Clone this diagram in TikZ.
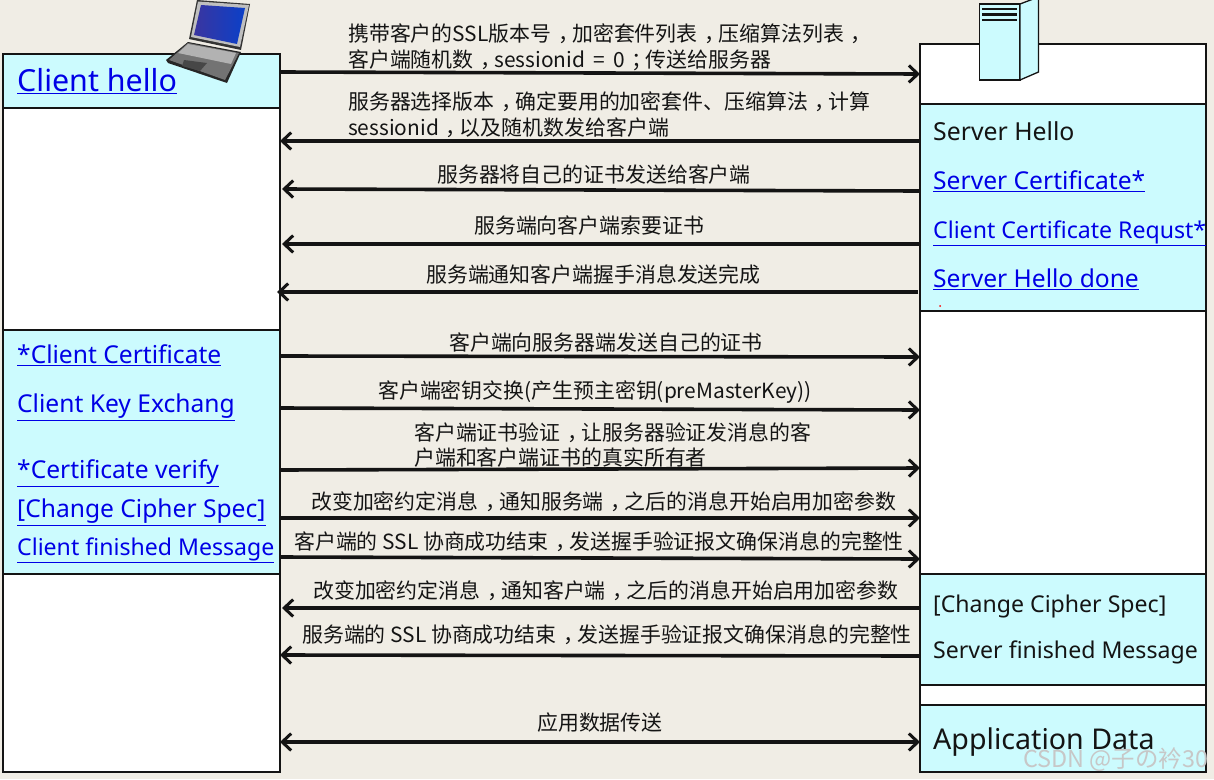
\documentclass[tikz,border=0pt]{standalone}
\usepackage{fontspec}
\setmainfont{Noto Sans}
\newfontfamily\cjk{Noto Sans CJK SC}
\newcommand\cmm{\kern.33em，\kern-.33em}
\newcommand\smc{\kern.33em；\kern-.33em}
\definecolor{bgc}{HTML}{F0EDE5}
\definecolor{cyanf}{HTML}{CCFBFE}
\definecolor{linkc}{HTML}{0000E6}
\definecolor{ink}{HTML}{141414}
\definecolor{scrl}{HTML}{3A35A0}
\definecolor{scrr}{HTML}{0B40C8}
\tikzset{
 x=1pt,y=-1pt,
 whitebox/.style={draw=ink,line width=1.4pt,fill=white},
 cyanbox/.style={draw=ink,line width=1.4pt,fill=cyanf},
 msg/.style={line width=3.6pt,draw=ink,-{Straight Barb[length=9pt,width=17pt,line width=3pt]}},
 msgback/.style={line width=3.6pt,draw=ink,{Straight Barb[length=9pt,width=17pt,line width=3pt]}-{Straight Barb[length=9pt,width=17pt,line width=3pt]}},
 note/.style={inner sep=0pt,anchor=mid west,yshift=-5pt,text=ink,font=\cjk\fontsize{20.9}{24}\selectfont},
 linktext/.style={inner sep=0pt,anchor=mid west,yshift=-6pt,text=linkc,font=\fontsize{24.6}{28}\selectfont},
 narrowlink/.style={linktext,font=\fontsize{23.1}{28}\selectfont},
 plaintext/.style={inner sep=0pt,anchor=mid west,yshift=-6pt,text=ink,font=\fontsize{23.1}{28}\selectfont},
}
\usetikzlibrary{arrows.meta}
\begin{document}
\begin{tikzpicture}
\useasboundingbox (0,0) rectangle (1214,779);
\fill[bgc] (0,0) rectangle (1214,779);
% left column
\draw[whitebox] (3,108) rectangle (280,330);
\draw[whitebox] (3,574) rectangle (280,772);
\draw[cyanbox] (3,54) rectangle (280,108);
\draw[cyanbox] (3,330) rectangle (280,574);
% right column
\draw[whitebox] (920,44) rectangle (1206,104);
\draw[whitebox] (920,311) rectangle (1206,574);
\draw[whitebox] (920,685) rectangle (1206,705);
\draw[cyanbox] (920,104) rectangle (1206,311);
\draw[cyanbox] (920,574) rectangle (1206,685);
\draw[cyanbox] (920,705) rectangle (1206,772);
% laptop
\fill[black!80] (197,0) -- (250,4) -- (241,50) -- (189,39) -- cycle;
\fill[black!25] (198,1.5) -- (249,5) -- (240,47) -- (191,37) -- cycle;
\shade[left color=scrl,right color=scrr] (201,5) -- (245,8) -- (237,44) -- (194,35) -- cycle;
\fill[black!85] (188,42) -- (241,52) -- (227,83) -- (168,63) -- (166,60) -- cycle;
\fill[black!55] (188,43) -- (239,53) -- (225,80) -- (169,60) -- cycle;
\fill[black!30] (188,44) -- (236,53) -- (231,64) -- (178,53) -- cycle;
\fill[black!72] (184,60) -- (207,63) -- (200,71) -- (182,66) -- cycle;
% server
\draw[fill=cyanf,draw=ink,line width=1.3pt] (979.5,4) rectangle (1020,80);
\draw[fill=cyanf,draw=ink,line width=1.3pt] (1020,4) -- (1038.5,-3) -- (1038.5,72) -- (1020,80) -- cycle;
\fill[ink] (982,7.5) rectangle (1017,10);
\fill[ink] (982,13) rectangle (1017,15.5);
\fill[ink] (982,18.5) rectangle (1017,21);
% end points
\coordinate (a1l) at (280,72); \coordinate (a1r) at (920,74);
\coordinate (a2l) at (280,141); \coordinate (a2r) at (920,141);
\coordinate (a3l) at (282,189); \coordinate (a3r) at (920,191);
\coordinate (a4l) at (282,244); \coordinate (a4r) at (920,244);
\coordinate (a5l) at (277,292); \coordinate (a5r) at (918,292);
\coordinate (a6l) at (280,356); \coordinate (a6r) at (920,357);
\coordinate (a7l) at (280,408); \coordinate (a7r) at (920,410);
\coordinate (a8l) at (280,470); \coordinate (a8r) at (920,468);
\coordinate (a9l) at (280,518); \coordinate (a9r) at (920,518);
\coordinate (a10l) at (280,557); \coordinate (a10r) at (920,559);
\coordinate (a11l) at (282,608); \coordinate (a11r) at (920,608);
\coordinate (a12l) at (280,655); \coordinate (a12r) at (920,656);
\coordinate (a13l) at (280,742); \coordinate (a13r) at (920,742);
\draw[msg] (a1l) -- (a1r);
\draw[msg] (a2r) -- (a2l);
\draw[msg] (a3r) -- (a3l);
\draw[msg] (a4r) -- (a4l);
\draw[msg] (a5r) -- (a5l);
\draw[msg] (a6l) -- (a6r);
\draw[msg] (a7l) -- (a7r);
\draw[msg] (a8l) -- (a8r);
\draw[msg] (a9l) -- (a9r);
\draw[msg] (a10l) -- (a10r);
\draw[msg] (a11r) -- (a11l);
\draw[msg] (a12r) -- (a12l);
\draw[msgback] (a13l) -- (a13r);
% notes
\node[note] (n1) at (348,34) {携带客户的SSL版本号\cmm 加密套件列表\cmm 压缩算法列表\cmm};
\node[note] (n1b) at (348,60) {客户端随机数\cmm sessionid\, =\, 0\smc 传送给服务器};
\node[note] (n2) at (348,102) {服务器选择版本\cmm 确定要用的加密套件、压缩算法\cmm 计算};
\node[note] (n2b) at (348,128) {sessionid\cmm 以及随机数发给客户端};
\node[note] (n3) at (437,175) {服务器将自己的证书发送给客户端};
\node[note] (n4) at (474,226) {服务端向客户端索要证书};
\node[note] (n5) at (426,275) {服务端通知客户端握手消息发送完成};
\node[note] (n6) at (449,343) {客户端向服务器端发送自己的证书};
\node[note] (n7) at (378,391) {客户端密钥交换(产生预主密钥(preMasterKey))};
\node[note] (n8) at (414,433) {客户端证书验证\cmm 让服务器验证发消息的客};
\node[note] (n8b) at (414,458) {户端和客户端证书的真实所有者};
\node[note] (n9) at (311,502) {改变加密约定消息\cmm 通知服务端\cmm 之后的消息开始启用加密参数};
\node[note] (n10) at (294,542) {客户端的 SSL 协商成功结束\cmm 发送握手验证报文确保消息的完整性};
\node[note] (n11) at (313,591) {改变加密约定消息\cmm 通知客户端\cmm 之后的消息开始启用加密参数};
\node[note] (n12) at (302,635) {服务端的 SSL 协商成功结束\cmm 发送握手验证报文确保消息的完整性};
\node[note] (n13) at (537,723) {应用数据传送};
% left labels
\node[linktext,yshift=-2pt,font=\fontsize{30.4}{34}\selectfont] (l1) at (17,81) {\underline{Client hello}};
\node[linktext] (l2) at (17,355) {\underline{*Client Certificate}};
\node[linktext] (l3) at (17,404) {\underline{Client Key Exchang}};
\node[linktext] (l4) at (17,470) {\underline{*Certificate verify}};
\node[linktext] (l5) at (17,509) {\underline{[Change Cipher Spec]}};
\node[narrowlink] (l6) at (17,547) {\underline{Client finished Message}};
% right labels
\node[plaintext,font=\fontsize{24.8}{28}\selectfont] (r1) at (933,132) {Server Hello};
\node[linktext] (r2) at (933,181) {\underline{Server Certificate*}};
\node[narrowlink] (r3) at (933,230) {\underline{Client Certificate Requst*}};
\node[linktext] (r4) at (933,279) {\underline{Server Hello done}};
\node[plaintext] (r5) at (933,604) {[Change Cipher Spec]};
\node[plaintext] (r6) at (933,650) {Server finished Message};
\node[plaintext,yshift=-2pt,font=\fontsize{28.6}{34}\selectfont] (r7) at (933,739) {Application Data};
\fill[red] (940,306) circle (1pt);
\node[inner sep=0pt,anchor=mid west,yshift=-5pt,text=white!78!black,font=\cjk\fontsize{23.4}{26}\selectfont] (wm) at (1023,760) {CSDN @子の衿30};
\end{tikzpicture}
\end{document}
